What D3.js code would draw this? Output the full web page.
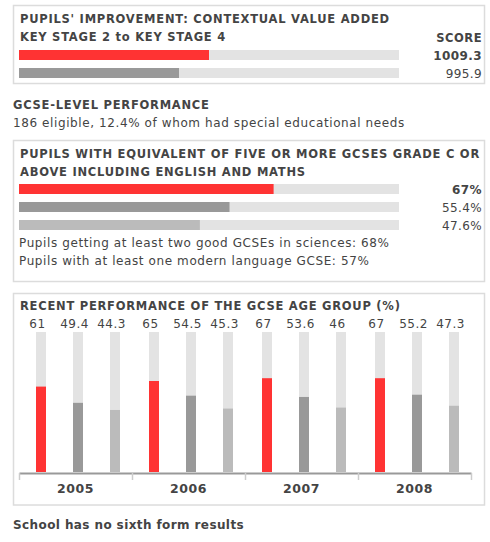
<!DOCTYPE html>
<html>
<head>
<meta charset="utf-8">
<script src="https://cdn.jsdelivr.net/npm/d3@7"></script>
<style>
  body { margin: 0; background: #fff; }
  text { font-family: "DejaVu Sans", Verdana, sans-serif; fill: #444; }
  .bold { font-weight: bold; }
</style>
</head>
<body>
<svg id="chart" width="490" height="542"></svg>
<script>
// data
const cvaValues = [1009.3, 995.9];
const cvaLabels = ["1009.3", "995.9"];
const gcseValues = [67, 55.4, 47.6];
const gcseLabels = ["67%", "55.4%", "47.6%"];
const years = ["2005", "2006", "2007", "2008"];
const schoolSeries = [61, 65, 67, 67];
const laSeries = [49.4, 54.5, 53.6, 55.2];
const englandSeries = [44.3, 45.3, 46, 47.3];

const barColors = ["#ff3333", "#999999", "#bbbbbb"];
const trackColor = "#e3e3e3";

const svg = d3.select("#chart");

// panel borders
const boxes = [
  { y: 5.5, h: 78 },
  { y: 140.5, h: 141 },
  { y: 293.5, h: 211.5 }
];
svg.selectAll(".box")
  .data(boxes)
  .enter().append("rect")
  .attr("class", "box")
  .attr("x", 13.5)
  .attr("y", d => d.y)
  .attr("width", 471)
  .attr("height", d => d.h)
  .style("fill", "none")
  .style("stroke", "#dcdcdc")
  .style("stroke-width", 1.5);

function addText(x, y, str, opts) {
  opts = opts || {};
  return svg.append("text")
    .attr("x", x)
    .attr("y", y)
    .attr("class", opts.bold ? "bold" : null)
    .attr("text-anchor", opts.anchor || "start")
    .style("font-size", (opts.size || 12) + "px")
    .style("letter-spacing", (opts.ls || 0) + "px")
    .text(str);
}
const title = { bold: true, size: 11.5, ls: 0.75 };
const body = { size: 12, ls: 0.6 };

// ---- panel 1: contextual value added
addText(20, 23, "PUPILS' IMPROVEMENT: CONTEXTUAL VALUE ADDED", title);
addText(20, 41, "KEY STAGE 2 to KEY STAGE 4", title);
addText(482, 42, "SCORE", { bold: true, size: 11.5, anchor: "end", ls: 0.5 });

const cvaX = d3.scaleLinear().domain([924.4, 1094.2]).range([0, 380]);
const cvaY = i => 50 + i * 18;

svg.selectAll(".cva-track")
  .data(cvaValues)
  .enter().append("rect")
  .attr("x", 19)
  .attr("y", (d, i) => cvaY(i))
  .attr("width", cvaX.range()[1])
  .attr("height", 10)
  .style("fill", trackColor);

svg.selectAll(".cva-bar")
  .data(cvaValues)
  .enter().append("rect")
  .attr("x", 19)
  .attr("y", (d, i) => cvaY(i))
  .attr("width", d => cvaX(d))
  .attr("height", 10)
  .style("fill", (d, i) => barColors[i]);

cvaLabels.forEach((l, i) => {
  addText(482, cvaY(i) + 10, l, { bold: i === 0, size: 12, anchor: "end", ls: 0.4 });
});

// ---- GCSE level text
addText(13, 109, "GCSE-LEVEL PERFORMANCE", title);
addText(13, 127, "186 eligible, 12.4% of whom had special educational needs", body);

// ---- panel 2: five or more GCSEs
addText(20, 158, "PUPILS WITH EQUIVALENT OF FIVE OR MORE GCSES GRADE C OR", title);
addText(20, 176, "ABOVE INCLUDING ENGLISH AND MATHS", title);

const pctX = d3.scaleLinear().domain([0, 100]).range([0, 380]);
const pctY = i => 184 + i * 18;

svg.selectAll(".pct-track")
  .data(gcseValues)
  .enter().append("rect")
  .attr("x", 19)
  .attr("y", (d, i) => pctY(i))
  .attr("width", pctX(100))
  .attr("height", 10)
  .style("fill", trackColor);

svg.selectAll(".pct-bar")
  .data(gcseValues)
  .enter().append("rect")
  .attr("x", 19)
  .attr("y", (d, i) => pctY(i))
  .attr("width", d => pctX(d))
  .attr("height", 10)
  .style("fill", (d, i) => barColors[i]);

gcseLabels.forEach((l, i) => {
  addText(482, pctY(i) + 10, l, { bold: i === 0, size: 12, anchor: "end", ls: 0.4 });
});

addText(19, 247, "Pupils getting at least two good GCSEs in sciences: 68%", body);
addText(19, 265, "Pupils with at least one modern language GCSE: 57%", body);

// ---- panel 3: recent performance
addText(20, 310, "RECENT PERFORMANCE OF THE GCSE AGE GROUP (%)", title);

const groupX = d3.scaleBand().domain(years).range([19, 471]);
const innerX = d3.scaleBand().domain([0, 1, 2]).range([3.5, 114.5]);
const yScale = d3.scaleLinear().domain([0, 100]).range([472, 332]);
const barW = 10;

const rows = [];
years.forEach((yr, i) => {
  [schoolSeries[i], laSeries[i], englandSeries[i]].forEach((v, j) => {
    rows.push({ year: yr, series: j, value: v });
  });
});

const barLeft = d => groupX(d.year) + innerX(d.series) + (innerX.bandwidth() - barW) / 2;

svg.selectAll(".col-track")
  .data(rows)
  .enter().append("rect")
  .attr("x", barLeft)
  .attr("y", yScale(100))
  .attr("width", barW)
  .attr("height", yScale(0) - yScale(100))
  .style("fill", trackColor);

svg.selectAll(".col-bar")
  .data(rows)
  .enter().append("rect")
  .attr("x", barLeft)
  .attr("y", d => yScale(d.value))
  .attr("width", barW)
  .attr("height", d => yScale(0) - yScale(d.value))
  .style("fill", d => barColors[d.series]);

svg.selectAll(".col-label")
  .data(rows)
  .enter().append("text")
  .attr("x", d => barLeft(d) + barW / 2 - 3.5)
  .attr("y", 328)
  .attr("text-anchor", "middle")
  .style("font-size", "12px")
  .style("letter-spacing", "0.5px")
  .text(d => d.value);

// axis with boundary ticks
const tickScale = d3.scaleLinear().domain([0, years.length]).range([19, 471]);
const tickAxis = svg.append("g")
  .attr("transform", "translate(0,473)")
  .call(d3.axisBottom(tickScale).ticks(years.length).tickSize(7).tickSizeOuter(0).tickFormat(""));
tickAxis.select(".domain").style("stroke", "#999").style("stroke-width", 2);
tickAxis.selectAll(".tick line").style("stroke", "#ccc").style("stroke-width", 1.5);

const yearAxis = svg.append("g")
  .attr("transform", "translate(0,474)")
  .call(d3.axisBottom(groupX).tickSize(0).tickPadding(10));
yearAxis.select(".domain").remove();
yearAxis.selectAll("text")
  .attr("class", "bold")
  .style("font-family", '"DejaVu Sans", Verdana, sans-serif')
  .style("font-size", "12.5px")
  .style("letter-spacing", "0.5px")
  .style("fill", "#444");

addText(13, 529, "School has no sixth form results", { bold: true, size: 12, ls: 0.4 });
</script>
</body>
</html>
